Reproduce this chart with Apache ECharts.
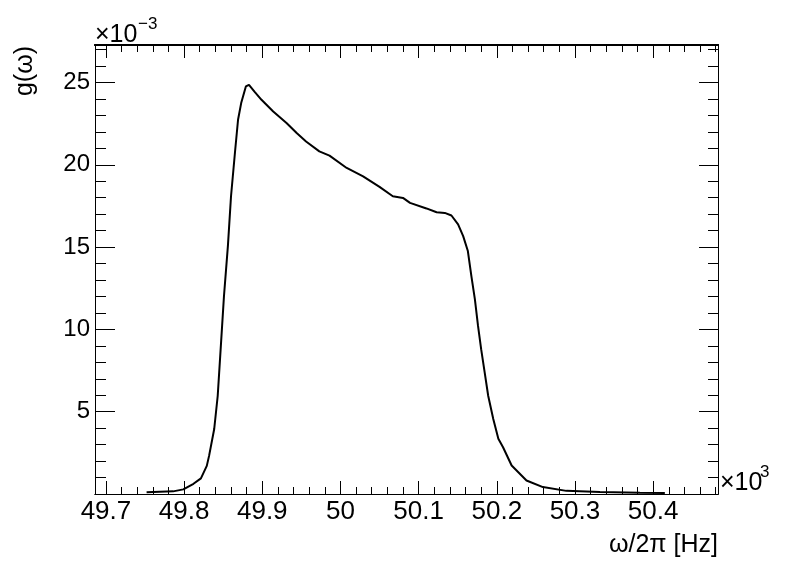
<!DOCTYPE html>
<html><head><meta charset="utf-8">
<script src="https://cdn.jsdelivr.net/npm/echarts@6/dist/echarts.min.js"></script>
<style>html,body{margin:0;padding:0;background:#fff}#c{width:798px;height:575px}</style>
</head><body><div id="c"></div>
<script>
// x in units of 10^3 Hz, y in units of 10^-3
const freqKHz = [49.752, 49.769, 49.786, 49.799, 49.812, 49.8215, 49.829, 49.832, 49.8385, 49.843,
  49.847, 49.851, 49.856, 49.860, 49.865, 49.869, 49.873, 49.879, 49.883, 49.890,
  49.899, 49.914, 49.931, 49.944, 49.956, 49.973, 49.986, 50.008, 50.029, 50.050,
  50.067, 50.080, 50.089, 50.110, 50.123, 50.1335, 50.142, 50.1505, 50.157, 50.163,
  50.1675, 50.172, 50.176, 50.180, 50.1845, 50.189, 50.1955, 50.202, 50.208, 50.219,
  50.238, 50.259, 50.289, 50.332, 50.383, 50.415];
const gE3 = [0.10, 0.13, 0.16, 0.28, 0.62, 0.95, 1.71, 2.33, 3.95, 5.97,
  9.00, 12.03, 15.06, 18.09, 20.72, 22.74, 23.75, 24.76, 24.86, 24.45,
  23.95, 23.24, 22.54, 21.93, 21.42, 20.82, 20.56, 19.81, 19.30, 18.66,
  18.09, 17.99, 17.69, 17.35, 17.12, 17.08, 16.92, 16.38, 15.67, 14.76,
  13.24, 11.83, 10.21, 8.80, 7.39, 5.97, 4.56, 3.35, 2.84, 1.73,
  0.82, 0.42, 0.19, 0.12, 0.08, 0.06];
const xMajorTicks = [49.7, 49.8, 49.9, 50, 50.1, 50.2, 50.3, 50.4];
const yMajorTicks = [5, 10, 15, 20, 25];
const xRange = [49.686, 50.483];
const yRange = [0, 27.28];

const xMinorTicks = [];
for (let i = 0; i <= 39; i++) xMinorTicks.push(Math.round((49.70 + i * 0.02) * 100) / 100);
const yMinorTicks = [];
for (let i = 1; i <= 27; i++) yMinorTicks.push(i);

const FONT = "'Liberation Sans', Arial, Helvetica, sans-serif";

function ax(dim, pos, ticks, len, showLabel, lw) {
  const r = dim === 'x' ? xRange : yRange;
  return {
    type: 'value', min: r[0], max: r[1], position: pos, gridIndex: 0,
    axisLine: {show: true, onZero: false, lineStyle: {color: '#000', width: lw}},
    axisTick: {show: true, inside: true, length: len, customValues: ticks, lineStyle: {color: '#000', width: 1}},
    axisLabel: {show: showLabel, customValues: dim === 'x' ? xMajorTicks : yMajorTicks,
      margin: dim === 'x' ? 5 : 5, color: '#000', fontFamily: FONT, fontSize: dim === 'x' ? 26 : 24},
    splitLine: {show: false}, minorTick: {show: false}
  };
}

const chart = echarts.init(document.getElementById('c'), null, {renderer: 'canvas'});
chart.setOption({
  animation: false,
  backgroundColor: '#fff',
  grid: {left: 95, top: 45, width: 623, height: 449, containLabel: false},
  xAxis: [
    ax('x', 'bottom', xMajorTicks, 13, true, 1),
    ax('x', 'bottom', xMinorTicks, 7, false, 1),
    ax('x', 'top', xMajorTicks, 13, false, 2),
    ax('x', 'top', xMinorTicks, 7, false, 2)
  ],
  yAxis: [
    ax('y', 'left', yMajorTicks, 20, true, 1),
    ax('y', 'left', yMinorTicks, 11, false, 1),
    ax('y', 'right', yMajorTicks, 19, false, 1),
    ax('y', 'right', yMinorTicks, 10, false, 1)
  ],
  series: [{
    type: 'line', xAxisIndex: 0, yAxisIndex: 0, symbol: 'none', smooth: false,
    lineStyle: {color: '#000', width: 2}, clip: true,
    data: freqKHz.map((f, i) => [f, gE3[i]])
  }],
  graphic: [
    {type: 'text', left: 95, top: 23, style: {text: '×10', fill: '#000', font: "25px " + FONT}},
    {type: 'text', left: 138, top: 16, style: {text: '−3', fill: '#000', font: "17px " + FONT}},
    {type: 'text', left: 720, top: 471, style: {text: '×10', fill: '#000', font: "25px " + FONT}},
    {type: 'text', left: 760, top: 464, style: {text: '3', fill: '#000', font: "17px " + FONT}},
    {type: 'text', right: 80, top: 533, style: {text: 'ω/2π [Hz]', fill: '#000', font: "25px " + FONT}},
    {type: 'text', x: 25, y: 46, rotation: Math.PI / 2,
      style: {text: 'g(ω)', fill: '#000', font: "25px " + FONT, align: 'right', verticalAlign: 'middle'}}
  ]
});
</script></body></html>
